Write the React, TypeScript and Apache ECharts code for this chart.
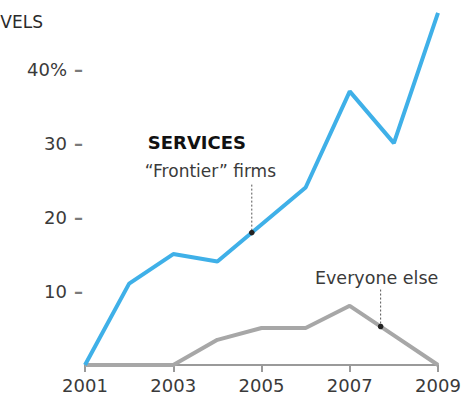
import React, { useEffect, useRef } from "react";
import * as echarts from "echarts";

const years = ["2001", "2002", "2003", "2004", "2005", "2006", "2007", "2008", "2009"];
const frontierFirms = [0, 11, 15, 14, 19, 24, 37, 30, 47.6];
const everyoneElse = [0, 0, 0, 3.4, 5, 5, 8, 4, 0];
const yTicks = [0, 10, 20, 30, 40];

const FONT = "DejaVu Sans";
const BLUE = "#3fb0e8";
const GRAY = "#a7a7a7";

export default function App() {
  const ref = useRef<HTMLDivElement>(null);

  useEffect(() => {
    if (!ref.current) return;
    const chart = echarts.init(ref.current, null, { renderer: "svg" });
    chart.setOption({
      animation: false,
      backgroundColor: "#ffffff",
      grid: { left: 85, right: 31, top: 10, bottom: 37, containLabel: false },
      xAxis: {
        type: "category",
        data: years,
        boundaryGap: false,
        axisLine: { show: true, lineStyle: { color: "#9a9a9a", width: 2 } },
        axisTick: { show: true, interval: 1, length: 7, lineStyle: { color: "#9a9a9a", width: 2 } },
        axisLabel: {
          interval: 1,
          margin: 11,
          color: "#3a3a3a",
          fontFamily: FONT,
          fontSize: 18,
        },
        splitLine: { show: false },
      },
      yAxis: {
        type: "value",
        min: 0,
        max: 48,
        interval: 10,
        axisLine: { show: false },
        axisTick: { show: false },
        splitLine: { show: false },
        axisLabel: {
          margin: 2,
          formatter: (v: number) =>
            yTicks.includes(v) && v !== 0 ? `{v|${v}${v === 40 ? "%" : ""}}{d|–}` : "",
          rich: {
            v: { color: "#3a3a3a", fontFamily: FONT, fontSize: 18 },
            d: {
              color: "#7a7a7a",
              fontFamily: FONT,
              fontSize: 18,
              fontWeight: "bold",
              padding: [0, 0, 0, 7],
            },
          },
        },
      },
      series: [
        {
          name: "Everyone else",
          type: "line",
          data: everyoneElse,
          showSymbol: false,
          lineStyle: { color: GRAY, width: 4 },
          z: 2,
        },
        {
          name: "Frontier firms",
          type: "line",
          data: frontierFirms,
          showSymbol: false,
          lineStyle: { color: BLUE, width: 4 },
          z: 3,
        },
      ],
    });

    const px = (s: number, i: number, v: number) =>
      chart.convertToPixel({ seriesIndex: s }, [i, v]) as number[];
    const lerp = (a: number[], b: number[], t: number) => [
      a[0] + (b[0] - a[0]) * t,
      a[1] + (b[1] - a[1]) * t,
    ];
    const d1 = lerp(px(1, 3, frontierFirms[3]), px(1, 4, frontierFirms[4]), 0.78);
    const d2 = lerp(px(0, 6, everyoneElse[6]), px(0, 7, everyoneElse[7]), 0.7);

    chart.setOption({
      graphic: [
        {
          type: "text",
          x: 43,
          y: 22,
          style: {
            text: "LEVELS",
            align: "right",
            verticalAlign: "middle",
            fontFamily: FONT,
            fontSize: 17,
            fill: "#2a2a2a",
          },
        },
        {
          type: "text",
          x: d1[0] - 104,
          y: d1[1] - 90,
          style: {
            text: "SERVICES",
            verticalAlign: "middle",
            fontFamily: FONT,
            fontWeight: "bold",
            fontSize: 18,
            fill: "#111111",
          },
        },
        {
          type: "text",
          x: d1[0] - 107,
          y: d1[1] - 62,
          style: {
            text: "\u201CFrontier\u201D firms",
            verticalAlign: "middle",
            fontFamily: FONT,
            fontSize: 17,
            fill: "#3a3a3a",
          },
        },
        {
          type: "line",
          shape: { x1: d1[0], y1: d1[1] - 48, x2: d1[0], y2: d1[1] },
          style: { stroke: "#555555", lineWidth: 1, lineDash: [2, 2] },
          z: 10,
        },
        {
          type: "circle",
          shape: { cx: d1[0], cy: d1[1], r: 2.8 },
          style: { fill: "#222222" },
          z: 11,
        },
        {
          type: "text",
          x: d2[0] - 4,
          y: d2[1] - 49,
          style: {
            text: "Everyone else",
            align: "center",
            verticalAlign: "middle",
            fontFamily: FONT,
            fontSize: 17.5,
            fill: "#3a3a3a",
          },
        },
        {
          type: "line",
          shape: { x1: d2[0], y1: d2[1] - 37, x2: d2[0], y2: d2[1] },
          style: { stroke: "#555555", lineWidth: 1, lineDash: [2, 2] },
          z: 10,
        },
        {
          type: "circle",
          shape: { cx: d2[0], cy: d2[1], r: 2.8 },
          style: { fill: "#222222" },
          z: 11,
        },
      ],
    });

    return () => chart.dispose();
  }, []);

  return (
    <div
      ref={ref}
      style={{ position: "fixed", left: 0, top: 0, width: 469, height: 402 }}
    />
  );
}
